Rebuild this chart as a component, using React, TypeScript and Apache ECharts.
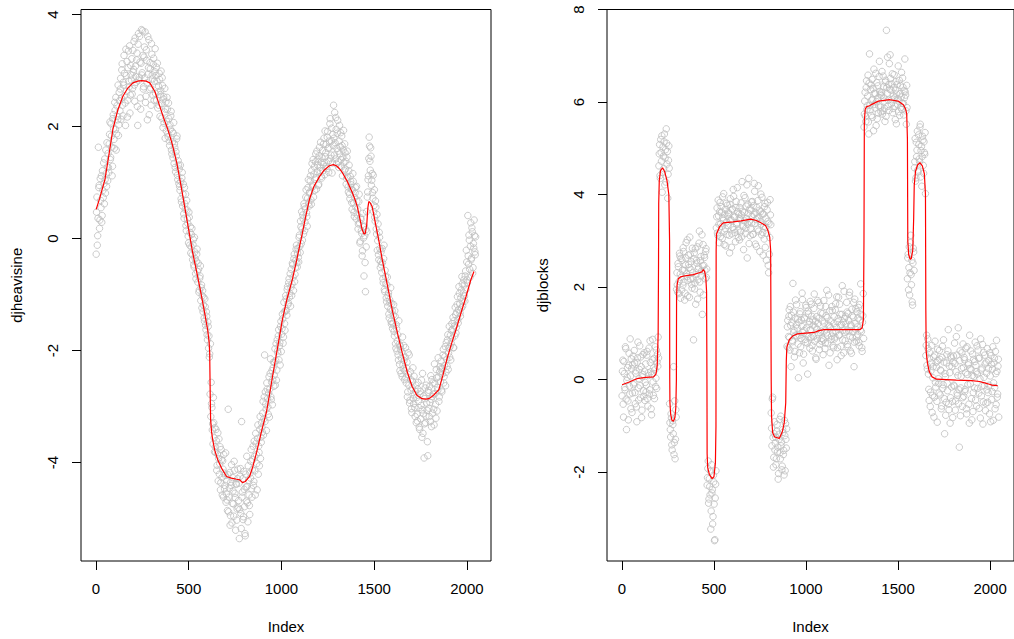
import React, { useEffect, useRef } from "react";
import * as echarts from "echarts";

// ---- axis ticks ----
const xTicks = [0, 500, 1000, 1500, 2000];
const heaviYTicks = [-4, -2, 0, 2, 4];
const blocksYTicks = [-2, 0, 2, 4, 6, 8];

const INDEX_STEP = 4;
const INDEX_START_A = 1;
const INDEX_START_B = 3;

// ---- djheavisine observations (grey circles) ----
const heaviPointsA = [
  -0.28, 0.74, 0.05, 1.63, 0.95, 0.33, 0.68, 1.12, 0.41, 0.86, 1.35, 0.62, 1.05, 1.58, 0.93, 1.28,
  1.52, 1.18, 1.86, 1.41, 2.05, 1.63, 1.29, 2.21, 1.77, 2.43, 1.95, 1.58, 2.37, 2.12, 1.84, 2.61,
  2.28, 2.86, 2.51, 3.12, 2.19, 2.74, 2.95, 2.42, 3.38, 2.63, 2.17, 3.05, 2.81, 3.44, 2.56, 2.92,
  3.21, 2.68, 2.97, 3.52, 2.45, 3.08, 2.79, 3.31, 2.02, 3.66, 2.88, 3.15, 2.31, 3.73, 2.96, 3.27,
  2.71, 3.42, 3.69, 2.54, 3.18, 2.12, 2.93, 3.55, 2.66, 3.03, 2.38, 3.29, 2.85, 3.11, 2.47, 2.98,
  2.59, 3.06, 2.81, 2.33, 2.72, 2.95, 2.18, 2.64, 2.41, 2.87, 1.98, 2.53, 2.26, 1.79, 2.44, 2.09,
  2.31, 1.82, 2.14, 1.66, 1.95, 2.27, 1.51, 1.73, 1.88, 1.34, 1.62, 1.19, 1.47, 1.83, 1.05, 1.31,
  1.24, 0.86, 1.02, 0.65, 1.18, 0.79, 0.44, 0.91, 0.52, 0.23, 0.68, 0.35, 0.04, 0.47, -0.12, 0.21,
  -0.15, 0.18, -0.38, -0.02, -0.51, -0.24, -0.63, -0.41, -0.19, -0.78, -0.55, -0.92, -0.67, -1.11, -0.83, -1.02,
  -1.31, -1.05, -1.48, -1.22, -1.63, -1.39, -1.81, -1.57, -1.74, -2.06, -1.88, -2.57, -3.02, -3.31, -2.84, -3.56,
  -3.38, -3.82, -3.61, -4.05, -3.47, -3.93, -4.21, -3.72, -4.36, -3.95, -4.58, -4.12, -3.86, -4.47, -4.23, -4.71,
  -4.33, -4.86, -3.05, -4.62, -4.18, -4.95, -4.41, -5.08, -4.27, -4.74, -3.98, -4.55, -5.21, -4.39, -4.83, -4.12,
  -4.68, -5.36, -4.25, -4.91, -3.27, -4.53, -5.02, -4.16, -4.79, -5.31, -4.44, -3.89, -4.72, -4.06, -4.58, -4.93,
  -4.28, -3.77, -4.62, -3.95, -4.41, -3.62, -4.15, -3.48, -3.86, -4.49, -3.33, -3.71, -4.06, -3.18, -3.55, -3.29,
  -3.46, -2.91, -3.22, -2.08, -2.74, -3.05, -2.58, -2.86, -3.14, -2.47, -2.69, -2.15, -2.88, -2.36, -2.52, -2.21,
  -2.44, -1.97, -2.18, -2.53, -1.81, -2.05, -1.63, -1.92, -2.26, -1.48, -1.71, -1.35, -1.87, -1.14, -1.52, -1.29,
  -1.08, -1.37, -0.86, -1.15, -0.72, -0.98, -1.21, -0.55, -0.81, -0.47, -0.93, -0.28, -0.64, -0.39, -0.12, -0.51,
  -0.18, -0.42, 0.06, -0.25, 0.21, 0.48, -0.03, 0.35, 0.62, 0.14, 0.53, 0.87, 0.39, 0.72, 1.05, 0.58,
  0.83, 1.12, 0.61, 1.34, 0.95, 0.74, 1.28, 1.06, 1.51, 0.88, 1.19, 1.42, 0.97, 1.63, 1.21, 1.36,
  1.08, 1.57, 1.32, 1.79, 1.14, 1.46, 1.68, 1.25, 1.91, 1.38, 1.62, 2.05, 1.43, 1.74, 1.17, 1.86,
  2.38, 1.49, 1.71, 2.16, 1.33, 1.88, 1.56, 1.27, 2.02, 1.64, 1.41, 1.83, 1.12, 1.58, 1.36, 1.69,
  1.24, 0.97, 1.45, 1.09, 0.83, 1.31, 0.71, 1.02, 0.88, 0.52, 1.16, 0.64, 0.39, 0.81, 0.56, 0.93,
  0.42, 0.17, 0.66, 0.28, -0.05, 0.34, 0.09, -0.22, 0.21, -0.67, 0.05, -0.95, -0.15, 0.12, 0.83, 1.12,
  1.81, 1.38, 1.62, 0.95, 1.16, 0.72, 0.48, 0.87, 0.31, 0.56, 0.08, -0.21, 0.26, -0.38, 0.02, -0.52,
  -0.24, -0.61, -0.43, -0.79, -0.12, -0.95, -0.68, -1.06, -0.83, -1.21, -0.97, -1.42, -1.15, -0.88, -1.53, -1.29,
  -1.52, -1.18, -1.74, -1.39, -1.96, -1.61, -1.83, -2.08, -1.47, -2.25, -1.92, -2.41, -2.03, -1.76, -2.33, -2.18,
  -2.36, -1.95, -2.58, -2.21, -2.74, -2.43, -2.08, -2.89, -2.52, -3.04, -2.67, -2.31, -2.95, -2.79, -3.18, -2.62,
  -2.84, -3.26, -2.57, -3.02, -3.41, -2.73, -2.98, -3.55, -2.41, -3.13, -3.92, -2.86, -3.29, -2.62, -3.07, -3.88,
  -2.71, -3.18, -2.93, -2.45, -3.36, -2.82, -2.58, -3.05, -2.24, -2.77, -3.21, -2.49, -2.66, -2.13, -2.91, -2.38,
  -2.56, -2.19, -2.74, -2.32, -1.98, -2.47, -2.11, -2.63, -1.86, -2.28, -1.72, -2.05, -1.57, -1.93, -2.17, -1.64,
  -1.78, -1.41, -1.95, -1.56, -1.23, -1.69, -1.32, -1.04, -1.51, -0.86, -1.17, -1.39, -0.92, -0.68, -1.21, -0.97,
  -0.83, -1.12, -0.58, -0.21, -0.74, 0.41, -0.46, -0.03, -0.69, 0.28, -0.35, 0.12, -0.52, -0.17, 0.05, -0.29,
];

const heaviPointsB = [
  0.47, -0.12, 0.36, 0.91, 0.18, 1.07, 0.55, 0.29, 1.21, 0.73, 0.98, 1.42, 0.81, 1.16, 1.71, 1.03,
  1.27, 1.69, 2.08, 1.45, 1.83, 1.12, 2.14, 1.96, 1.61, 2.29, 2.52, 1.87, 2.18, 2.74, 2.03, 2.46,
  2.67, 2.13, 3.01, 2.38, 2.79, 3.27, 2.55, 2.02, 2.91, 3.16, 2.47, 3.35, 2.71, 2.24, 3.09, 2.83,
  2.58, 3.36, 3.02, 2.74, 3.58, 2.89, 3.19, 2.36, 3.47, 2.83, 3.61, 2.51, 3.13, 2.92, 3.71, 2.67,
  3.24, 2.87, 2.43, 3.37, 2.78, 3.61, 3.05, 2.21, 3.14, 2.69, 3.48, 2.92, 2.56, 3.22, 2.81, 3.39,
  2.91, 2.47, 3.13, 2.62, 2.38, 2.84, 2.57, 2.99, 2.15, 2.73, 2.49, 2.06, 2.68, 2.31, 1.92, 2.52,
  1.87, 2.42, 1.74, 2.03, 2.19, 1.58, 1.91, 1.44, 2.07, 1.69, 1.27, 1.55, 1.78, 1.13, 1.39, 0.98,
  0.93, 1.31, 0.71, 1.08, 0.58, 0.97, 0.36, 0.62, 0.79, 0.14, 0.51, 0.27, -0.08, 0.38, 0.11, -0.26,
  0.07, -0.29, -0.11, -0.47, 0.02, -0.36, -0.72, -0.28, -0.59, -0.44, -0.96, -0.71, -0.49, -0.88, -1.24, -0.93,
  -1.19, -1.42, -1.08, -1.55, -1.31, -1.72, -1.49, -1.96, -2.12, -2.78, -3.18, -2.95, -3.42, -3.67, -3.29, -3.81,
  -3.72, -3.41, -4.14, -3.85, -4.33, -3.58, -4.02, -4.49, -3.77, -4.27, -3.97, -4.62, -4.19, -4.41, -3.83, -4.56,
  -4.67, -4.22, -4.88, -4.46, -5.12, -4.35, -4.04, -4.73, -4.51, -4.96, -4.14, -4.63, -4.38, -5.03, -4.29, -4.81,
  -4.37, -4.84, -4.11, -5.18, -4.62, -4.29, -4.97, -4.48, -5.27, -4.21, -4.69, -4.43, -5.06, -4.32, -4.77, -4.19,
  -3.98, -4.47, -4.13, -3.71, -4.34, -3.89, -4.58, -3.66, -4.02, -3.57, -4.21, -3.82, -3.41, -3.93, -3.64, -3.37,
  -3.12, -3.51, -2.83, -3.27, -2.96, -3.43, -2.69, -3.01, -2.76, -3.19, -2.41, -2.83, -2.57, -2.97, -2.31, -2.64,
  -2.21, -2.62, -1.88, -2.35, -2.01, -1.74, -2.17, -1.86, -1.57, -2.02, -1.61, -1.43, -1.76, -1.31, -1.64, -1.02,
  -1.29, -0.91, -1.18, -0.79, -1.05, -0.63, -0.87, -1.02, -0.44, -0.69, -0.36, -0.77, -0.52, -0.19, -0.43, -0.26,
  -0.34, 0.02, -0.14, 0.31, -0.09, 0.17, 0.42, 0.08, 0.57, 0.29, 0.74, 0.46, 0.22, 0.91, 0.63, 0.81,
  1.03, 0.69, 1.21, 0.92, 1.41, 1.15, 0.86, 1.37, 1.09, 1.56, 1.31, 0.95, 1.48, 1.27, 1.72, 1.11,
  1.44, 1.21, 1.69, 1.36, 1.92, 1.53, 1.29, 1.81, 1.61, 1.18, 1.74, 2.14, 1.49, 1.97, 1.35, 1.66,
  1.79, 2.25, 1.42, 1.95, 1.61, 2.11, 1.37, 1.74, 1.51, 1.89, 1.28, 1.66, 1.45, 1.93, 1.21, 1.53,
  1.38, 1.07, 1.56, 0.92, 1.21, 0.79, 1.11, 0.96, 0.64, 0.87, 1.02, 0.47, 0.73, 0.91, 0.35, 0.66,
  0.53, 0.26, 0.79, -0.08, 0.37, 0.14, -0.31, 0.45, 0.01, 0.22, -0.43, 0.16, 0.48, 0.74, 1.05, 1.43,
  1.65, 1.22, 1.47, 1.04, 0.82, 1.13, 0.59, 0.38, 0.67, 0.17, 0.43, -0.04, -0.29, 0.11, -0.18, -0.41,
  -0.47, -0.18, -0.72, -0.36, -0.91, -0.57, -0.81, -1.13, -0.69, -1.02, -1.35, -1.09, -1.27, -1.48, -1.16, -1.61,
  -1.37, -1.66, -1.29, -1.88, -1.54, -2.01, -1.72, -2.17, -1.89, -2.36, -1.98, -2.14, -2.47, -2.26, -1.91, -2.52,
  -2.12, -2.49, -2.31, -2.83, -2.04, -2.62, -2.94, -2.38, -2.71, -3.11, -2.55, -2.86, -2.46, -3.02, -2.73, -3.29,
  -3.14, -2.69, -2.91, -3.37, -2.78, -3.22, -2.53, -3.06, -3.48, -2.81, -3.31, -2.67, -3.17, -2.94, -3.63, -2.75,
  -3.03, -2.64, -3.27, -2.87, -2.52, -3.12, -2.78, -3.33, -2.59, -2.96, -2.34, -3.08, -2.71, -2.47, -2.83, -2.29,
  -2.33, -2.71, -2.42, -2.08, -2.58, -2.27, -1.93, -2.39, -2.16, -1.81, -2.34, -1.96, -2.12, -1.73, -1.87, -1.52,
  -1.62, -1.95, -1.47, -1.74, -1.36, -1.59, -1.18, -1.45, -1.27, -0.98, -1.33, -1.06, -1.24, -0.81, -1.12, -0.74,
  -1.03, -0.67, -0.91, -0.42, -0.79, -0.31, 0.06, -0.55, -0.14, -0.38, 0.19, -0.62, -0.09, 0.33, -0.24, 0.03,
];

// ---- djblocks observations (grey circles) ----
const blocksPointsA = [
  -0.35, 0.42, -0.81, 0.13, -0.22, 0.67, -1.08, 0.05, -0.46, 0.31, -0.14, 0.88, -0.63, 0.24, -0.29, 0.51,
  -0.07, 0.36, -0.52, 0.19, -0.91, 0.47, -0.18, 0.02, 0.73, -0.39, 0.28, -0.66, 0.11, -0.24, 0.58, -0.45,
  0.34, -0.12, 0.61, -0.57, 0.09, -0.31, 0.84, 0.17, -0.76, 0.43, -0.05, 0.26, -0.41, 0.71, 0.03, -0.19,
  0.55, 0.92, 4.62, 5.08, 4.35, 4.91, 5.27, 4.48, 4.83, 5.14, 4.21, 4.97, 5.42, 4.66, 3.92, 4.74,
  4.57, -0.93, -1.24, -0.83, -1.52, -0.97, 0.28, -1.36, -1.71, -0.65, 1.95, 2.05, 2.51, 1.86, 2.73, 2.28,
  2.62, 1.94, 2.37, 2.85, 2.11, 1.72, 2.48, 2.96, 2.23, 1.81, 2.69, 2.42, 3.08, 2.17, 2.55, 1.98,
  2.31, 0.86, 2.74, 2.09, 1.63, 2.58, 2.87, 2.16, 2.43, 3.21, 1.89, 2.66, 2.35, 1.41, 2.92, 2.47,
  2.64, 2.18, 2.83, 2.39, -2.12, -1.76, -2.58, -2.31, -1.98, -2.84, -2.45, -3.12, -2.07, -2.69, -3.46, -2.26,
  3.28, 3.71, 3.12, 3.54, 2.96, 3.83, 3.37, 3.62, 3.05, 3.49, 4.02, 3.21, 3.68, 2.89, 3.41, 3.77,
  3.33, 3.58, 2.74, 3.91, 3.46, 3.15, 3.69, 4.11, 3.24, 3.52, 2.98, 3.85, 3.39, 3.63, 3.07, 3.48,
  3.72, 3.19, 3.56, 4.28, 3.34, 2.81, 3.61, 3.93, 3.27, 3.48, 2.63, 3.79, 4.35, 3.42, 3.11, 3.66,
  3.38, 3.85, 3.14, 3.57, 4.07, 2.93, 3.46, 3.72, 3.25, 4.19, 3.51, 2.77, 3.63, 3.36, 3.94, 3.18,
  3.58, 3.04, 3.81, 3.29, 2.58, 3.67, 3.42, 2.31, 2.71, 3.89, 3.35, -1.05, -0.42, -1.25, -1.68, -0.91,
  -1.37, -1.84, -1.12, -1.56, -2.15, -1.29, -0.86, -1.71, -1.43, -1.95, -1.08, -1.62, -2.06, -1.21, -0.95, -1.48,
  0.72, 1.28, 0.93, 1.51, 0.64, 1.17, 1.39, 0.85, 2.08, 1.02, 0.49, 1.33, 0.96, 1.62, 1.11, 0.77,
  1.24, 0.58, 1.47, 0.89, 1.15, 1.73, 0.36, 1.06, 1.31, 0.81, 1.56, 0.97, 0.12, 1.42, 1.19, 0.68,
  1.08, 1.63, 0.74, 1.29, 0.93, 1.85, 1.14, 0.47, 1.36, 0.88, 1.21, 1.67, 0.65, 1.02, 1.44, 0.83,
  1.27, 0.54, 1.71, 1.05, 0.79, 1.38, 1.93, 0.96, 1.18, 0.31, 1.49, 1.12, 0.87, 1.58, 1.01, 0.69,
  1.36, 0.92, 1.64, 1.13, 0.43, 1.25, 1.78, 0.97, 1.41, 0.72, 1.19, 2.03, 1.07, 0.58, 1.32, 0.84,
  1.21, 1.67, 0.76, 1.43, 1.05, 1.89, 0.62, 1.16, 1.52, 0.91, 1.35, 0.28, 1.74, 1.09, 0.83, 1.47,
  0.98, 1.56, 0.73, 1.29, 2.07, 1.04, 0.61, 1.38, 0.89, 5.74, 6.21, 5.58, 6.46, 5.92, 6.58, 5.31,
  7.04, 5.83, 6.37, 6.04, 5.67, 6.29, 6.71, 5.95, 6.18, 5.49, 6.42, 6.08, 5.76, 6.55, 6.23, 5.89,
  6.14, 6.66, 5.81, 6.33, 6.02, 5.58, 6.47, 7.55, 6.19, 5.91, 6.38, 6.83, 7.02, 6.26, 6.05, 6.61,
  5.86, 6.31, 6.09, 5.62, 6.44, 6.17, 5.95, 6.78, 6.02, 5.71, 6.36, 6.11, 5.84, 6.52, 5.97, 6.24,
  6.93, 6.15, 5.52, 5.88, 2.63, 1.94, 2.87, 2.31, 3.12, 2.05, 1.68, 2.52, 2.76, 4.58, 5.21, 4.36,
  4.82, 5.37, 4.49, 5.08, 4.71, 5.52, 4.95, 4.18, 5.26, 4.63, 5.14, 4.87, 4.02, 0.74, 0.31, 0.88,
  0.12, -0.45, 0.58, -0.27, 0.36, -0.71, 0.04, 0.49, -0.38, 0.83, -0.16, 0.27, -0.92, 0.41, -0.08, 0.63,
  -0.33, 0.19, -0.57, 0.72, -0.11, 0.38, -1.17, 0.06, -0.49, 0.54, -0.24, 1.08, -0.65, 0.15, -0.39, 0.47,
  0.28, -0.82, 0.51, -0.14, 0.35, -0.46, 0.93, -0.29, 0.09, -0.52, -1.46, 0.62, -0.18, 0.24, -0.58, 0.77,
  -0.36, 0.43, -0.21, 0.68, -0.74, 0.11, 0.32, -0.53, 0.96, -0.09, 0.21, -0.87, 0.55, -0.28, 0.07, 0.39,
  -0.44, 0.17, 0.73, -0.19, 0.46, -0.62, 0.02, 0.88, -0.35, 0.25, -0.96, 0.59, -0.13, 0.34, -0.51, 0.14,
  0.67, -0.28, 0.41, -0.74, 0.08, 0.52, -0.43, 0.23, -0.88, 0.36, -0.17, 0.61, -0.54, 0.18, -0.31, 0.44,
];

const blocksPointsB = [
  0.18, -0.53, 0.39, -0.17, 0.71, -0.42, -0.02, 0.26, -0.87, 0.57, -0.31, 0.08, 0.45, -0.71, 0.32, -0.11,
  0.63, -0.28, 0.14, -0.59, 0.37, 0.81, -0.44, 0.22, -0.13, 0.49, -0.82, 0.06, 0.54, -0.36, 0.18, -0.06,
  -0.27, 0.53, -0.41, 0.15, 0.68, -0.22, 0.37, -0.63, 0.11, 0.87, -0.34, 0.46, 0.21, -0.15, 0.64, 0.38,
  0.29, 0.47, 4.88, 4.41, 5.19, 4.72, 4.05, 5.03, 4.56, 5.31, 4.79, 4.27, 5.11, 4.93, 4.44, 5.05,
  -0.52, -1.08, -0.74, -1.41, -0.89, -1.17, -1.62, -0.46, -1.29, -0.81, 2.31, 1.89, 2.44, 2.12, 2.67, 1.76,
  2.21, 2.58, 2.04, 2.77, 2.36, 1.87, 2.63, 2.29, 3.02, 2.14, 2.49, 1.78, 2.71, 2.38, 2.06, 2.84,
  2.18, 2.61, 1.96, 2.83, 2.27, 2.52, 1.74, 2.39, 2.95, 2.11, 2.57, 2.24, 3.13, 2.46, 1.83, 2.69,
  2.36, 2.77, 2.21, -2.28, -1.92, -2.67, -2.14, -2.49, -3.23, -1.84, -2.38, -2.96, -2.21, -3.48, -2.56, -1.97,
  3.52, 3.17, 3.88, 3.36, 3.63, 3.09, 3.74, 3.31, 3.95, 3.44, 2.92, 3.58, 3.26, 3.81, 3.14, 3.53,
  3.61, 3.12, 3.79, 3.44, 2.86, 3.67, 3.29, 3.96, 3.51, 3.18, 3.72, 3.36, 4.15, 3.23, 3.57, 3.02,
  3.47, 3.82, 3.09, 3.64, 3.31, 3.98, 3.43, 3.16, 3.75, 4.21, 3.36, 3.59, 2.94, 3.69, 3.27, 3.84,
  3.53, 3.14, 3.76, 4.24, 3.38, 3.61, 2.88, 3.49, 3.87, 3.21, 3.66, 3.42, 4.01, 3.13, 3.58, 2.69,
  3.31, 3.74, 2.86, 3.49, 3.16, 3.83, 2.47, 3.38, 3.07, 3.56, -0.72, -1.43, -0.38, -1.89, -1.17, -1.52,
  -1.24, -1.71, -0.97, -1.46, -2.03, -1.18, -1.58, -0.79, -1.35, -1.87, -1.14, -1.53, -0.88, -1.97, -1.29, -1.06,
  1.14, 0.69, 1.37, 0.91, 1.58, 0.28, 1.23, 0.82, 1.46, 1.07, 0.61, 1.72, 1.18, 0.93, 1.31, 0.04,
  0.96, 1.42, 0.71, 1.29, 1.87, 1.03, 0.55, 1.34, 0.87, 1.61, 1.12, 0.79, 1.48, 0.93, 1.26, 1.69,
  0.91, 1.37, 0.62, 1.18, 1.54, 0.83, 1.26, 0.44, 1.09, 1.71, 0.97, 1.33, 0.76, 1.59, 1.05, 0.89,
  1.43, 0.86, 1.22, 0.67, 1.58, 1.01, 1.34, 0.79, 1.83, 1.16, 0.58, 1.27, 0.94, 1.49, 0.73, 1.21,
  0.88, 1.51, 1.04, 1.79, 0.69, 1.32, 0.95, 1.63, 1.17, 0.52, 1.41, 0.86, 1.24, 1.91, 1.02, 1.37,
  1.05, 1.46, 0.71, 1.28, 1.82, 0.94, 1.19, 0.57, 1.38, 1.03, 1.67, 0.81, 1.21, 1.53, 0.92, 1.14,
  1.33, 0.81, 1.62, 1.07, 1.41, 0.69, 1.24, 1.86, 5.46, 6.02, 5.69, 6.31, 5.84, 6.13, 5.57, 6.41,
  5.93, 6.27, 5.71, 6.49, 6.06, 5.38, 6.19, 5.87, 6.62, 6.01, 5.64, 6.35, 5.92, 6.88, 6.17, 5.79,
  6.21, 5.74, 6.56, 6.09, 5.86, 6.43, 5.69, 6.31, 6.97, 6.04, 5.82, 6.28, 6.51, 5.96, 6.39, 5.77,
  6.13, 6.59, 5.91, 6.26, 5.53, 6.38, 6.07, 5.79, 6.47, 6.18, 5.88, 6.64, 5.97, 6.32, 5.72, 6.09,
  6.22, 5.81, 6.36, 2.18, 2.71, 2.42, 1.83, 2.96, 2.27, 2.58, 1.61, 2.84, 2.36, 4.71, 4.29, 5.13,
  4.96, 4.53, 5.29, 4.77, 5.46, 4.38, 5.04, 4.82, 5.18, 4.46, 4.91, 5.34, 0.52, 0.96, 0.23, 0.67,
  -0.21, 0.46, -0.58, 0.19, 0.74, -0.34, 0.28, -0.81, 0.53, -0.06, 0.37, -0.47, 0.66, 0.02, -0.29, 0.44,
  0.21, -0.63, 0.48, -0.19, 0.86, -0.41, 0.13, -0.77, 0.36, -0.08, 0.62, -0.53, 0.29, -0.94, 0.51, -0.16,
  -0.47, 0.38, -0.12, 0.79, -0.66, 0.17, 0.53, -0.34, 1.12, -0.22, 0.41, -0.78, 0.07, 0.58, -0.39, 0.26,
  0.48, -0.26, 0.15, -0.63, 0.71, -0.11, 0.36, -0.94, 0.24, 0.62, -0.41, 0.09, -0.69, 0.44, -0.18, 0.81,
  0.31, -0.57, 0.12, 0.64, -0.29, 0.47, -0.83, 0.21, -0.14, 0.76, -0.48, 0.05, 0.53, -0.67, 0.38, -0.22,
  -0.49, 0.24, -0.12, 0.58, -0.91, 0.33, -0.26, 0.71, -0.07, 0.46, -0.63, 0.13, 0.85, -0.38, 0.29, -0.81,
];

// ---- smooth fits (red lines): [Index, value] ----
const heaviFit = [
  [1, 0.52], [20, 0.72], [48, 1.05], [70, 1.5], [91, 1.95], [118, 2.3], [145, 2.54], [170, 2.68],
  [199, 2.78], [225, 2.81], [247, 2.82], [270, 2.81], [290, 2.78], [318, 2.62], [344, 2.36], [365, 2.15],
  [387, 1.95], [410, 1.7], [435, 1.36], [458, 0.95], [478, 0.57], [500, 0.15], [521, -0.25], [540, -0.55],
  [559, -0.86], [580, -1.22], [602, -1.63], [610, -1.85], [613, -2.04], [616, -2.82], [618, -3.23], [623, -3.45],
  [629, -3.59], [640, -3.78], [656, -3.95], [680, -4.12], [704, -4.25], [730, -4.28], [758, -4.3], [775, -4.31],
  [790, -4.36], [805, -4.34], [828, -4.25], [845, -4.08], [866, -3.82], [892, -3.45], [919, -3.1], [935, -2.8],
  [952, -2.46], [980, -1.93], [1005, -1.45], [1030, -1.08], [1059, -0.73], [1080, -0.42], [1097, -0.15], [1113, 0.1],
  [1130, 0.38], [1151, 0.7], [1175, 0.93], [1204, 1.1], [1230, 1.22], [1258, 1.3], [1280, 1.32], [1296, 1.3],
  [1312, 1.25], [1328, 1.18], [1355, 1.02], [1382, 0.82], [1396, 0.7], [1409, 0.57], [1422, 0.37], [1435, 0.16],
  [1445, 0.08], [1452, 0.09], [1460, 0.25], [1466, 0.55], [1471, 0.66], [1478, 0.64], [1489, 0.57], [1505, 0.3],
  [1527, -0.07], [1543, -0.37], [1565, -0.73], [1580, -0.98], [1597, -1.27], [1625, -1.68], [1651, -2.04], [1678, -2.38],
  [1704, -2.64], [1730, -2.8], [1758, -2.86], [1777, -2.87], [1796, -2.86], [1820, -2.8], [1849, -2.7], [1870, -2.45],
  [1892, -2.16], [1915, -1.9], [1941, -1.63], [1968, -1.33], [1995, -1.04], [2020, -0.75], [2038, -0.59],
];

const blocksFit = [
  [1, -0.11], [40, -0.05], [81, 0.02], [130, 0.05], [172, 0.06], [185, 0.12], [192, 0.3], [197, 1.0],
  [199, 2.5], [200, 3.8], [203, 4.3], [210, 4.52], [221, 4.58], [232, 4.5], [245, 4.3], [255, 4.0],
  [259, 3.0], [260, 0.0], [261, -0.5], [265, -0.75], [272, -0.88], [280, -0.9], [288, -0.82], [293, -0.6],
  [296, 0.0], [297, 1.8], [300, 2.05], [306, 2.18], [318, 2.22], [350, 2.25], [388, 2.27], [420, 2.31],
  [435, 2.33], [442, 2.38], [450, 2.33], [456, 2.2], [460, 1.9], [462, 0.0], [463, -1.6], [466, -1.9],
  [475, -2.05], [490, -2.14], [500, -2.1], [508, -1.8], [511, -1.0], [512, 2.8], [514, 3.15], [530, 3.3],
  [550, 3.39], [604, 3.41], [647, 3.43], [701, 3.47], [730, 3.44], [755, 3.39], [780, 3.33], [792, 3.24],
  [803, 3.08], [808, 2.8], [811, 0.0], [813, -0.8], [819, -1.15], [830, -1.24], [855, -1.27], [872, -1.12],
  [882, -0.93], [890, -0.5], [893, 0.4], [896, 0.7], [909, 0.86], [930, 0.95], [954, 0.99], [1044, 1.02],
  [1070, 1.06], [1098, 1.08], [1294, 1.08], [1305, 1.12], [1312, 1.3], [1315, 3.0], [1317, 5.6], [1322, 5.85],
  [1330, 5.9], [1345, 5.92], [1358, 5.95], [1393, 6.02], [1456, 6.05], [1500, 6.02], [1529, 5.94], [1541, 5.85],
  [1547, 5.75], [1551, 5.2], [1553, 3.0], [1558, 2.7], [1566, 2.6], [1572, 2.62], [1580, 2.8], [1585, 3.5],
  [1588, 4.2], [1595, 4.5], [1606, 4.64], [1619, 4.69], [1632, 4.62], [1643, 4.45], [1649, 4.0], [1651, 1.5],
  [1653, 0.6], [1660, 0.35], [1670, 0.17], [1685, 0.06], [1709, 0.01], [1817, -0.01], [1900, -0.02], [1942, -0.04],
  [1970, -0.07], [1996, -0.1], [2010, -0.12], [2041, -0.13],
];

const FONT = "'Liberation Sans', Arial, Helvetica, sans-serif";
const GREY = "#bebebe";

function toPairs(a: number[], b: number[]) {
  const out: number[][] = [];
  a.forEach((v, i) => out.push([INDEX_START_A + INDEX_STEP * i, v]));
  b.forEach((v, i) => out.push([INDEX_START_B + INDEX_STEP * i, v]));
  return out;
}

const plain = (v: number) => String(v);

function xAxisFor(gridIndex: number) {
  return {
    type: "value",
    gridIndex,
    min: -80.9,
    max: 2129.9,
    axisLine: { show: false, onZero: false },
    splitLine: { show: false },
    axisTick: { show: true, inside: false, length: 9, customValues: xTicks, lineStyle: { color: "#000", width: 1 } },
    axisLabel: { customValues: xTicks, formatter: plain, color: "#000", fontSize: 15, fontFamily: FONT, margin: 20 },
    name: "Index",
    nameLocation: "middle",
    nameGap: 58,
    nameTextStyle: { color: "#000", fontSize: 15, fontFamily: FONT },
  };
}

function yAxisFor(gridIndex: number, min: number, max: number, ticks: number[], name: string) {
  return {
    type: "value",
    gridIndex,
    min,
    max,
    axisLine: { show: false, onZero: false },
    splitLine: { show: false },
    axisTick: { show: true, inside: false, length: 9, customValues: ticks, lineStyle: { color: "#000", width: 1 } },
    axisLabel: { customValues: ticks, formatter: plain, color: "#000", fontSize: 15, fontFamily: FONT, margin: 21, rotate: 90 },
    name,
    nameLocation: "middle",
    nameGap: 57,
    nameRotate: 90,
    nameTextStyle: { color: "#000", fontSize: 15, fontFamily: FONT },
  };
}

export default function App() {
  const ref = useRef<HTMLDivElement>(null);
  useEffect(() => {
    document.body.style.margin = "0";
    const chart = echarts.init(ref.current!, null, { renderer: "svg" });
    const scatterStyle = { color: "rgba(0,0,0,0)", borderColor: GREY, borderWidth: 1 };
    chart.setOption({
      animation: false,
      backgroundColor: "#fff",
      textStyle: { fontFamily: FONT },
      grid: [
        { left: 81, top: 9.5, width: 410, height: 553.5, show: true, borderColor: "#000", borderWidth: 1, backgroundColor: "transparent" },
        { left: 607, top: 9.5, width: 409.5, height: 553.5, show: true, borderColor: "#000", borderWidth: 1, backgroundColor: "transparent" },
      ],
      xAxis: [xAxisFor(0), xAxisFor(1)],
      yAxis: [
        yAxisFor(0, -5.76, 4.09, heaviYTicks, "djheavisine"),
        yAxisFor(1, -3.92, 8.0, blocksYTicks, "djblocks"),
      ],
      series: [
        {
          type: "scatter", xAxisIndex: 0, yAxisIndex: 0, data: toPairs(heaviPointsA, heaviPointsB),
          symbol: "circle", symbolSize: 6.5, itemStyle: scatterStyle, silent: true, z: 2,
        },
        {
          type: "line", xAxisIndex: 0, yAxisIndex: 0, data: heaviFit, showSymbol: false, symbol: "none",
          lineStyle: { color: "#ff0000", width: 1.2 }, silent: true, z: 3,
        },
        {
          type: "scatter", xAxisIndex: 1, yAxisIndex: 1, data: toPairs(blocksPointsA, blocksPointsB),
          symbol: "circle", symbolSize: 6.5, itemStyle: scatterStyle, silent: true, z: 2,
        },
        {
          type: "line", xAxisIndex: 1, yAxisIndex: 1, data: blocksFit, showSymbol: false, symbol: "none",
          lineStyle: { color: "#ff0000", width: 1.2 }, silent: true, z: 3,
        },
      ],
    });
    return () => chart.dispose();
  }, []);
  return <div ref={ref} style={{ width: 1014, height: 639 }} />;
}
